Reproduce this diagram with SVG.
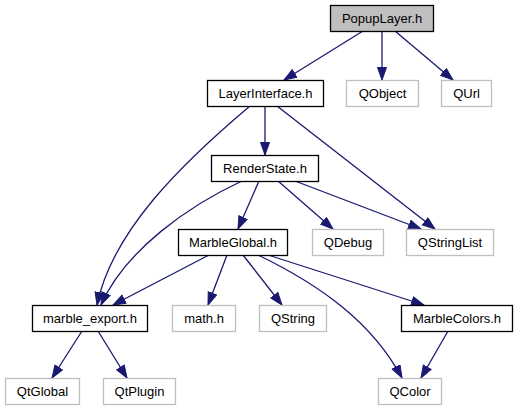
<svg xmlns="http://www.w3.org/2000/svg" width="517" height="411" viewBox="0 0 517 411">
<style>
text{font-family:"Liberation Sans",Arial,sans-serif;font-size:13px;text-anchor:middle;fill:#000}
.n{fill:#fff;stroke:#000;stroke-width:1.3}
.g{fill:#fff;stroke:#bfbfbf;stroke-width:1.3}
.c{fill:#bfbfbf;stroke:#000;stroke-width:1.3}
.e{fill:none;stroke:#191970;stroke-width:1.3;marker-end:url(#ah)}
</style>
<defs>
<marker id="ah" markerUnits="userSpaceOnUse" markerWidth="14" markerHeight="11" refX="13" refY="5" orient="auto">
<path d="M0.5,0.5 L13,5 L0.5,9.5 z" fill="#191970" stroke="#191970" stroke-width="1"/>
</marker>
</defs>
<rect width="517" height="411" fill="#fff"/>
<g id="edges">
<path class="e" d="M363,31 L284,80"/>
<path class="e" d="M382,31 L382,80"/>
<path class="e" d="M395,31 L453,80"/>
<path class="e" d="M265,106 L265,155"/>
<path class="e" d="M250,106 C180,165 112,232 97,305"/>
<path class="e" d="M277,106 L435,229"/>
<path class="e" d="M242,181 C190,205 125,250 101,305"/>
<path class="e" d="M259,181 L238,229"/>
<path class="e" d="M278,181 L333,229"/>
<path class="e" d="M295,181 L421,229"/>
<path class="e" d="M209,255 L113,305"/>
<path class="e" d="M227,255 L208,305"/>
<path class="e" d="M243,255 L282,305"/>
<path class="e" d="M258,255 C320,285 372,322 402,378"/>
<path class="e" d="M268,255 L424,305"/>
<path class="e" d="M448,331 L421,378"/>
<path class="e" d="M82,331 L52,378"/>
<path class="e" d="M98,331 L127,378"/>
</g>
<g id="PopupLayer"><rect class="c" x="330.5" y="5.5" width="103" height="26"/><text x="382" y="23">PopupLayer.h</text></g>
<g id="LayerInterface"><rect class="n" x="207.5" y="80.5" width="116" height="26"/><text x="265.5" y="98">LayerInterface.h</text></g>
<g id="QObject"><rect class="g" x="346.5" y="80.5" width="72" height="26"/><text x="382.5" y="98">QObject</text></g>
<g id="QUrl"><rect class="g" x="441.5" y="80.5" width="50" height="26"/><text x="466.5" y="98">QUrl</text></g>
<g id="RenderState"><rect class="n" x="211.5" y="155.5" width="107" height="26"/><text x="265" y="173">RenderState.h</text></g>
<g id="MarbleGlobal"><rect class="n" x="178.5" y="229.5" width="109" height="26"/><text x="233" y="247">MarbleGlobal.h</text></g>
<g id="QDebug"><rect class="g" x="312.5" y="229.5" width="71" height="26"/><text x="348" y="247">QDebug</text></g>
<g id="QStringList"><rect class="g" x="406.5" y="229.5" width="87" height="26"/><text x="450" y="247">QStringList</text></g>
<g id="marble_export"><rect class="n" x="32.5" y="305.5" width="115" height="26"/><text x="90" y="323">marble_export.h</text></g>
<g id="math"><rect class="g" x="172.5" y="305.5" width="63" height="26"/><text x="204" y="323">math.h</text></g>
<g id="QString"><rect class="g" x="259.5" y="305.5" width="67" height="26"/><text x="293" y="323">QString</text></g>
<g id="MarbleColors"><rect class="n" x="401.5" y="305.5" width="111" height="26"/><text x="457" y="323">MarbleColors.h</text></g>
<g id="QtGlobal"><rect class="g" x="5.5" y="378.5" width="74" height="26"/><text x="42.5" y="396">QtGlobal</text></g>
<g id="QtPlugin"><rect class="g" x="103.5" y="378.5" width="72" height="26"/><text x="139.5" y="396">QtPlugin</text></g>
<g id="QColor"><rect class="g" x="378.5" y="378.5" width="63" height="26"/><text x="410" y="396">QColor</text></g>
</svg>
